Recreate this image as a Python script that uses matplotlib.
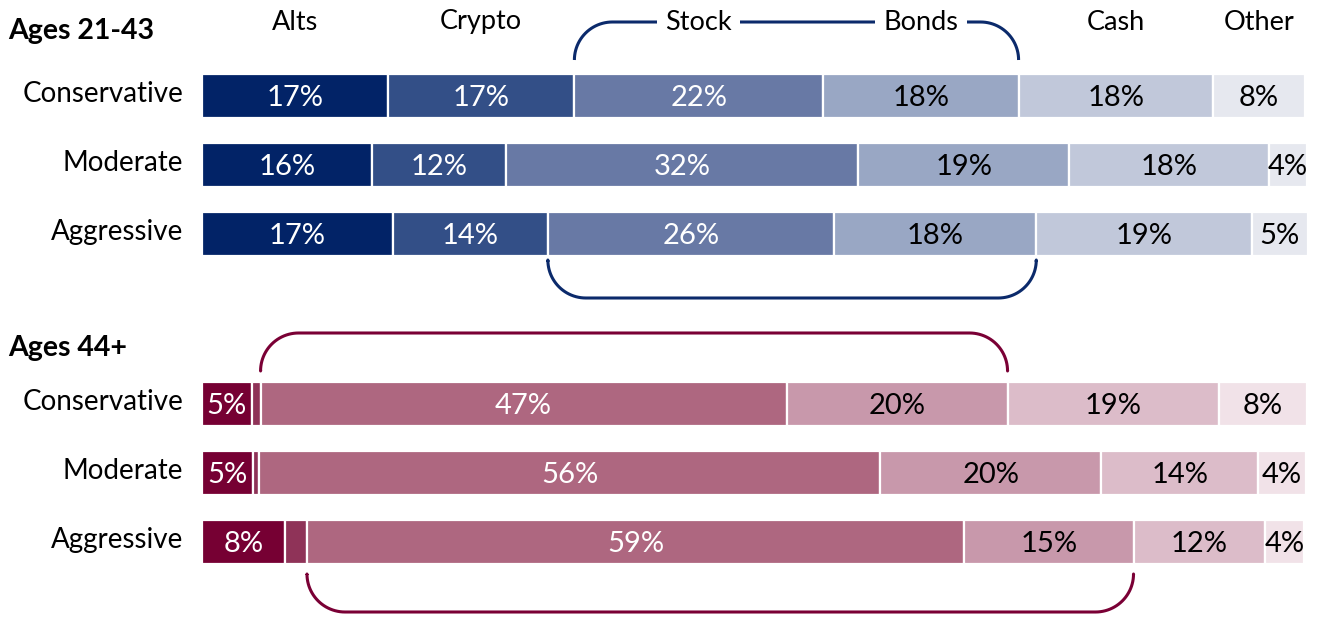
import matplotlib.pyplot as plt
import numpy as np

plt.rcParams['font.family'] = ['Lato', 'DejaVu Sans']

categories = ['Alts', 'Crypto', 'Stock', 'Bonds', 'Cash', 'Other']
profiles = ['Conservative', 'Moderate', 'Aggressive']

# shares (%), labels as printed
young = np.array([[16.8, 16.9, 22.5, 17.7, 17.6, 8.3],
                  [15.4, 12.1, 31.9, 19.1, 18.1, 3.4],
                  [17.3, 14.0, 25.9, 18.3, 19.5, 5.1]])
young_labels = [['17%', '17%', '22%', '18%', '18%', '8%'],
                ['16%', '12%', '32%', '19%', '18%', '4%'],
                ['17%', '14%', '26%', '18%', '19%', '5%']]

older = np.array([[4.5, 0.8, 47.6, 20.0, 19.1, 8.0],
                  [4.6, 0.6, 56.2, 20.0, 14.2, 4.3],
                  [7.5, 2.0, 59.5, 15.3, 11.9, 3.5]])
older_labels = [['5%', '', '47%', '20%', '19%', '8%'],
                ['5%', '', '56%', '20%', '14%', '4%'],
                ['8%', '', '59%', '15%', '12%', '4%']]

navy = ['#022367', '#334f87', '#6879a5', '#99a7c4', '#c1c8da', '#e6e8ef']
maroon = ['#760033', '#8f3358', '#ae6780', '#c898ab', '#dcbcc9', '#f1e2e8']

W, H = 1322, 617
fig = plt.figure(figsize=(W / 100, H / 100), dpi=100)
x0_px, w_px = 202, 1105
ax = fig.add_axes([x0_px / W, 0, w_px / W, 1])
ax.set_xlim(0, 100)
ax.set_ylim(H, 0)
ax.axis('off')
px = w_px / 100.0  # pixels per percent


def draw_group(data, labels, colors, ys):
    for name, row, labs, y in zip(profiles, data, labels, ys):
        left = np.concatenate([[0], np.cumsum(row)[:-1]])
        ax.barh(y, row, left=left, height=44, color=colors,
                edgecolor='white', linewidth=1.6)
        for i, (l, w, t) in enumerate(zip(left, row, labs)):
            ax.text(l + w / 2, y + 2, t, ha='center', va='center',
                    color='white' if i < 3 else 'black', fontsize=21)
        ax.text(-19 / px, y - 2, name, ha='right', va='center', fontsize=20)


def bracket(row, y_tip, y_flat, color):
    # spans Stock + Bonds of the given row
    cs = np.cumsum(row)
    xa, xb = cs[1], cs[3]
    r = 38
    rx = r / px
    s = np.sign(y_flat - y_tip)
    t = np.linspace(0, np.pi / 2, 25)
    lx = xa + rx - rx * np.cos(t)
    ly = y_flat - s * r + s * r * np.sin(t)
    rxx = xb - rx + rx * np.sin(t)
    ry = y_flat - s * r + s * r * np.cos(t)
    xs = np.concatenate([[xa], lx, rxx, [xb]])
    ys = np.concatenate([[y_tip], ly, ry, [y_tip]])
    ax.plot(xs, ys, color=color, lw=2.2, solid_capstyle='butt', zorder=1)


top_rows = [96, 165, 234]
bot_rows = [404, 473, 542]

draw_group(young, young_labels, navy, top_rows)
draw_group(older, older_labels, maroon, bot_rows)

bracket(young[0], 60, 22, '#0b2a6b')
bracket(young[2], 262, 298, '#0b2a6b')
bracket(older[0], 370, 333, '#7a0035')
bracket(older[2], 575, 612, '#7a0035')

# column headers over the first row's segments
left = np.concatenate([[0], np.cumsum(young[0])[:-1]])
centers = left + young[0] / 2
for c, cx in zip(categories, centers):
    ax.text(cx, 22, c, ha='center', va='center', fontsize=19.5, zorder=3,
            bbox=dict(facecolor='white', edgecolor='none', pad=6))

fig.text(8 / W, 1 - 31 / H, 'Ages 21-43', ha='left', va='center',
         fontsize=20.5, fontweight='bold')
fig.text(8 / W, 1 - 348 / H, 'Ages 44+', ha='left', va='center',
         fontsize=20.5, fontweight='bold')

fig.savefig('out.png', dpi=100, facecolor='white')
